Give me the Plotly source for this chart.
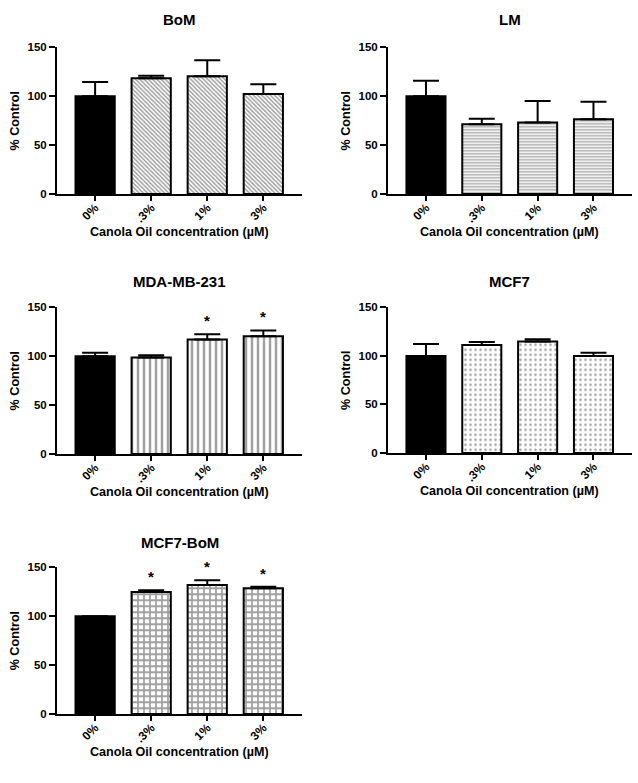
import plotly.graph_objects as go

categories = ["0%", ".3%", "1%", "3%"]

panel_titles = ["BoM", "LM", "MDA-MB-231", "MCF7", "MCF7-BoM"]
x_title = "Canola Oil concentration (µM)"
y_title = "% Control"

bom_mean = [100, 118.4, 120.4, 102.3]
bom_err = [14.5, 2.7, 16.5, 10.0]

lm_mean = [100, 71.3, 73.3, 76.4]
lm_err = [15.8, 5.7, 21.9, 18.1]

mda_mean = [100, 98.8, 117.0, 120.5]
mda_err = [3.6, 2.2, 5.4, 5.8]

mcf7_mean = [100, 111.3, 114.7, 100.0]
mcf7_err = [12.2, 3.1, 2.4, 3.3]

mcf7bom_mean = [100, 124.8, 131.8, 128.6]
mcf7bom_err = [0, 1.7, 5.0, 1.5]

mda_sig = [False, False, True, True]
mcf7bom_sig = [False, True, True, True]
no_sig = [False, False, False, False]

y_tickvals = [0, 50, 100, 150]

panels = [
    (panel_titles[0], bom_mean, bom_err, no_sig),
    (panel_titles[1], lm_mean, lm_err, no_sig),
    (panel_titles[2], mda_mean, mda_err, mda_sig),
    (panel_titles[3], mcf7_mean, mcf7_err, no_sig),
    (panel_titles[4], mcf7bom_mean, mcf7bom_err, mcf7bom_sig),
]

# styles (pattern per panel)
pattern_styles = [
    dict(shape="\\", size=3, solidity=0.5, fgcolor="#111111"),
    dict(shape="-", size=3, solidity=0.45, fgcolor="#222222"),
    dict(shape="|", size=6, solidity=0.42, fgcolor="black"),
    dict(shape=".", size=5, solidity=0.2, fgcolor="#666666"),
    dict(shape="+", size=6, solidity=0.5, fgcolor="black"),
]

W, H = 638, 783
# pixel geometry of axes: (x0, x1, ytop, ybottom)
geom = [
    (57, 302, 42, 191),
    (388, 632, 42, 191),
    (57, 302, 306, 455),
    (388, 632, 306, 454),
    (57, 302, 570, 719),
]
title_gap = [28, 28, 26, 26, 25]

FONT = "Liberation Sans, Arial, sans-serif"

fig = go.Figure()
annotations = []
layout_axes = {}

for i, ((title, mean, err, sig), pat, (x0, x1, yt, yb)) in enumerate(zip(panels, pattern_styles, geom)):
    n = i + 1
    xa = "x" if n == 1 else f"x{n}"
    ya = "y" if n == 1 else f"y{n}"
    colors = ["black"] + ["white"] * (len(categories) - 1)
    shapes = [""] + [pat["shape"]] * (len(categories) - 1)
    fig.add_trace(go.Bar(
        x=categories, y=mean, xaxis=xa, yaxis=ya, width=0.7,
        marker=dict(
            color=colors,
            line=dict(color="black", width=2),
            pattern=dict(shape=shapes, size=pat["size"], solidity=pat["solidity"],
                         fgcolor=pat["fgcolor"], bgcolor="white", fillmode="overlay"),
        ),
        error_y=dict(type="data", array=err, arrayminus=[0] * len(err), symmetric=False,
                     color="black", thickness=2, width=13),
        showlegend=False, cliponaxis=False,
    ))
    for c, m, e, s in zip(categories, mean, err, sig):
        if s:
            annotations.append(dict(x=c, y=m + e, xref=xa, yref=ya, text="<b>*</b>",
                                    showarrow=False, yanchor="bottom", yshift=3,
                                    font=dict(family=FONT, size=15, color="black")))
    dx = [x0 / W, x1 / W]
    dy = [1 - yb / H, 1 - yt / H]
    xkey = "xaxis" if n == 1 else f"xaxis{n}"
    ykey = "yaxis" if n == 1 else f"yaxis{n}"
    layout_axes[xkey] = dict(
        domain=dx, anchor=ya, range=[-0.68, 3.69], type="category",
        showline=True, linecolor="black", linewidth=2, ticks="outside", ticklen=5,
        tickwidth=2, tickcolor="black", tickangle=-45, showgrid=False, zeroline=False,
        ticklabelstandoff=-5,
        tickfont=dict(family=FONT, size=12, color="black", weight="bold"),
    )
    layout_axes[ykey] = dict(
        domain=dy, anchor=xa, range=[0, 150], tickvals=y_tickvals,
        showline=True, linecolor="black", linewidth=2, ticks="outside", ticklen=6,
        tickwidth=2, tickcolor="black", showgrid=False, zeroline=False,
        tickfont=dict(family=FONT, size=11.5, color="black", weight="bold"),
        title=dict(text=f"<b>{y_title}</b>", standoff=5,
                   font=dict(family=FONT, size=12.6, color="black")),
    )
    # panel title
    annotations.append(dict(x=(dx[0] + dx[1]) / 2, y=1 - (yt - title_gap[i]) / H,
                            xref="paper", yref="paper", xanchor="center",
                            text=f"<b>{title}</b>", showarrow=False, yanchor="middle",
                            font=dict(family=FONT, size=15, color="black")))
    # x-axis title
    annotations.append(dict(x=(dx[0] + dx[1]) / 2, y=1 - (yb + 39) / H,
                            xref="paper", yref="paper", xanchor="center",
                            text=f"<b>{x_title}</b>", showarrow=False, yanchor="middle",
                            font=dict(family=FONT, size=12.6, color="black")))

fig.update_layout(
    width=W, height=H, margin=dict(l=0, r=0, t=0, b=0),
    paper_bgcolor="white", plot_bgcolor="white",
    annotations=annotations, bargap=0.3, **layout_axes,
)

fig.write_html("out.html")
